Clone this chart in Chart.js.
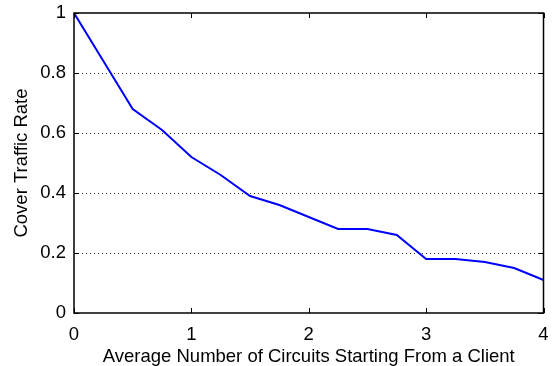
<!DOCTYPE html>
<html>
<head>
<meta charset="utf-8">
<script src="https://cdn.jsdelivr.net/npm/chart.js@4/dist/chart.umd.min.js"></script>
<style>
  html, body { margin: 0; padding: 0; background: #fff; }
  #wrap { width: 555px; height: 366px; }
</style>
</head>
<body>
<div id="wrap"><canvas id="chart"></canvas></div>
<script>
// average circuits per client vs. cover traffic rate
const circuits = [0, 0.25, 0.5, 0.75, 1, 1.25, 1.5, 1.75, 2, 2.25, 2.5, 2.75, 3, 3.25, 3.5, 3.75, 4];
const coverRate = [1, 0.84, 0.68, 0.61, 0.52, 0.46, 0.39, 0.36, 0.32, 0.28, 0.28, 0.26, 0.18, 0.18, 0.17, 0.15, 0.11];
const xTicks = [0, 1, 2, 3, 4];
const yTicks = [0, 0.2, 0.4, 0.6, 0.8, 1];

const FONT = "'Liberation Sans', Arial, sans-serif";
const FSIZE = 18.5;

// box frame, dotted grid and inward tick marks
const framePlugin = {
    id: "frame",
    beforeDatasetsDraw(chart) {
        const { ctx, chartArea: a, scales: { y } } = chart;
        ctx.save();
        ctx.strokeStyle = "#333";
        ctx.lineWidth = 1;
        ctx.setLineDash([1, 3]);
        yTicks.forEach(v => {
            if (v === 0 || v === 1) return;
            const py = Math.round(y.getPixelForValue(v)) + 0.5;
            ctx.beginPath();
            ctx.moveTo(a.left, py);
            ctx.lineTo(a.right, py);
            ctx.stroke();
        });
        ctx.restore();
    },
    afterDatasetsDraw(chart) {
        const { ctx, chartArea: a, scales: { x, y } } = chart;
        ctx.save();
        ctx.strokeStyle = "#000";
        ctx.lineWidth = 1.5;
        ctx.strokeRect(a.left, a.top, a.right - a.left, a.bottom - a.top);
        ctx.lineWidth = 1;
        const t = 5;
        ctx.beginPath();
        xTicks.forEach(v => {
            const px = Math.round(x.getPixelForValue(v)) + 0.5;
            ctx.moveTo(px, a.bottom); ctx.lineTo(px, a.bottom - t);
            ctx.moveTo(px, a.top); ctx.lineTo(px, a.top + t);
        });
        yTicks.forEach(v => {
            const py = Math.round(y.getPixelForValue(v)) + 0.5;
            ctx.moveTo(a.left, py); ctx.lineTo(a.left + t, py);
            ctx.moveTo(a.right, py); ctx.lineTo(a.right - t, py);
        });
        ctx.stroke();
        ctx.restore();
    }
};

new Chart(document.getElementById("chart"), {
    type: "line",
    data: {
        datasets: [{
            data: circuits.map((c, i) => ({ x: c, y: coverRate[i] })),
            borderColor: "#0000ff",
            borderWidth: 2,
            pointRadius: 0,
            tension: 0,
            fill: false,
        }],
    },
    options: {
        responsive: true,
        maintainAspectRatio: false,
        animation: false,
        layout: { padding: { top: 13, right: 11.5, left: 0, bottom: 0 } },
        plugins: { legend: { display: false }, tooltip: { enabled: false } },
        scales: {
            x: {
                type: "linear",
                min: 0,
                max: 4,
                afterBuildTicks: (s) => { s.ticks = xTicks.map(v => ({ value: v })); },
                afterFit: (s) => {
                    s.height = 53;
                    s.paddingLeft = 0;
                    s.paddingRight = 0;
                },
                grid: { display: false, drawTicks: false },
                border: { display: false },
                ticks: {
                    color: "#000",
                    padding: 11,
                    maxRotation: 0,
                    font: { family: FONT, size: FSIZE },
                    callback: (v) => String(v),
                },
                title: {
                    display: true,
                    text: "Average Number of Circuits Starting From a Client",
                    color: "#000",
                    padding: { top: 0, bottom: -2.5 },
                    font: { family: FONT, size: FSIZE },
                },
            },
            y: {
                type: "linear",
                min: 0,
                max: 1,
                afterBuildTicks: (s) => { s.ticks = yTicks.map(v => ({ value: v })); },
                afterFit: (s) => {
                    s.width = 74;
                    s.paddingTop = 0;
                    s.paddingBottom = 0;
                },
                grid: { display: false, drawTicks: false },
                border: { display: false },
                ticks: {
                    color: "#000",
                    padding: 8,
                    font: { family: FONT, size: FSIZE },
                    callback: (v) => String(v),
                },
                title: {
                    display: true,
                    text: "Cover Traffic Rate",
                    color: "#000",
                    padding: { top: 11, bottom: 0 },
                    font: { family: FONT, size: FSIZE },
                },
            },
        },
    },
    plugins: [framePlugin],
});
</script>
</body>
</html>
